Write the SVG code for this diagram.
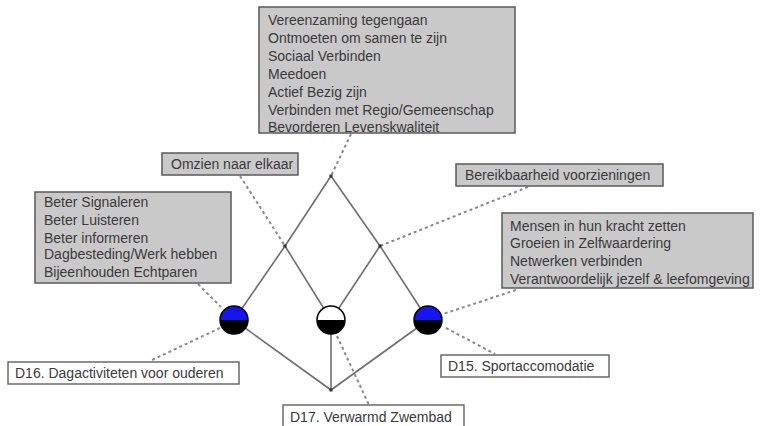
<svg xmlns="http://www.w3.org/2000/svg" width="760" height="426" viewBox="0 0 760 426">
<style>
.box{fill:#c9c9c9;stroke:#5a5a5a;stroke-width:1.5}
.wbox{fill:#ffffff;stroke:#6a6a6a;stroke-width:1.5}
text{font-family:"Liberation Sans",Arial,sans-serif;font-size:14px;fill:#3a3a3a}
.tree{stroke:#6e6e6e;stroke-width:1.6;fill:none}
.dash{stroke:#8a8a8a;stroke-width:2;stroke-dasharray:3,3;fill:none}
.jn{fill:#333}
</style>
<rect width="760" height="426" fill="#ffffff"/>
<g id="connectors">
<line class="tree" x1="331" y1="176" x2="285" y2="246"/>
<line class="tree" x1="331" y1="176" x2="380" y2="246"/>
<line class="tree" x1="285" y1="246" x2="234" y2="320"/>
<line class="tree" x1="285" y1="246" x2="331" y2="320"/>
<line class="tree" x1="380" y1="246" x2="331" y2="320"/>
<line class="tree" x1="380" y1="246" x2="428" y2="320"/>
<line class="tree" x1="234" y1="320" x2="331" y2="390"/>
<line class="tree" x1="331" y1="320" x2="331" y2="390"/>
<line class="tree" x1="428" y1="320" x2="331" y2="390"/>
<line class="dash" x1="351" y1="134" x2="331" y2="176"/>
<line class="dash" x1="240" y1="176" x2="285" y2="246"/>
<line class="dash" x1="528" y1="187" x2="380" y2="246"/>
<line class="dash" x1="198" y1="284" x2="221" y2="307"/>
<line class="dash" x1="220" y1="328" x2="150" y2="361"/>
<line class="dash" x1="516" y1="290" x2="443" y2="314"/>
<line class="dash" x1="446" y1="328" x2="495" y2="354"/>
<line class="dash" x1="337" y1="336" x2="369" y2="405"/>
</g>
<g id="j-top"><rect class="jn" x="329.5" y="174.5" width="3" height="3"/></g>
<g id="j-left"><rect class="jn" x="283.5" y="244.5" width="3" height="3"/></g>
<g id="j-right"><rect class="jn" x="378.5" y="244.5" width="3" height="3"/></g>
<g id="j-bottom"><rect class="jn" x="329.5" y="388.5" width="3" height="3"/></g>
<g id="c-d16">
<path d="M220,320 A14,14 0 0 1 248,320 Z" fill="#1515f0"/>
<path d="M220,320 A14,14 0 0 0 248,320 Z" fill="#000"/>
<circle cx="234" cy="320" r="14" fill="none" stroke="#000" stroke-width="1.5"/>
</g>
<g id="c-d17">
<path d="M317,320 A14,14 0 0 1 345,320 Z" fill="#fff"/>
<path d="M317,320 A14,14 0 0 0 345,320 Z" fill="#000"/>
<circle cx="331" cy="320" r="14" fill="none" stroke="#000" stroke-width="1.5"/>
</g>
<g id="c-d15">
<path d="M414,320 A14,14 0 0 1 442,320 Z" fill="#1515f0"/>
<path d="M414,320 A14,14 0 0 0 442,320 Z" fill="#000"/>
<circle cx="428" cy="320" r="14" fill="none" stroke="#000" stroke-width="1.5"/>
</g>
<g id="n-top">
<rect class="box" x="259" y="7" width="256" height="126"/>
<text x="268" y="25">Vereenzaming tegengaan</text>
<text x="268" y="43">Ontmoeten om samen te zijn</text>
<text x="268" y="61">Sociaal Verbinden</text>
<text x="268" y="79">Meedoen</text>
<text x="268" y="97">Actief Bezig zijn</text>
<text x="268" y="115">Verbinden met Regio/Gemeenschap</text>
<text x="268" y="132">Bevorderen Levenskwaliteit</text>
</g>
<g id="n-omzien">
<rect class="box" x="162" y="153" width="136" height="22"/>
<text x="171" y="169">Omzien naar elkaar</text>
</g>
<g id="n-bereik">
<rect class="box" x="456" y="164" width="207" height="22"/>
<text x="465" y="180">Bereikbaarheid voorzieningen</text>
</g>
<g id="n-left">
<rect class="box" x="35" y="192" width="196" height="91"/>
<text x="44" y="207">Beter Signaleren</text>
<text x="44" y="225">Beter Luisteren</text>
<text x="44" y="243">Beter informeren</text>
<text x="44" y="259">Dagbesteding/Werk hebben</text>
<text x="44" y="277">Bijeenhouden Echtparen</text>
</g>
<g id="n-right">
<rect class="box" x="502" y="213" width="251" height="75"/>
<text x="510" y="231">Mensen in hun kracht zetten</text>
<text x="510" y="248">Groeien in Zelfwaardering</text>
<text x="510" y="266">Netwerken verbinden</text>
<text x="510" y="284">Verantwoordelijk jezelf &amp; leefomgeving</text>
</g>
<g id="n-d16">
<rect class="wbox" x="8" y="362" width="231" height="22"/>
<text x="15" y="378">D16. Dagactiviteten voor ouderen</text>
</g>
<g id="n-d15">
<rect class="wbox" x="441" y="355" width="168" height="22"/>
<text x="448" y="371">D15. Sportaccomodatie</text>
</g>
<g id="n-d17">
<rect class="wbox" x="283" y="405" width="181" height="22"/>
<text x="290" y="422">D17. Verwarmd Zwembad</text>
</g>
</svg>
